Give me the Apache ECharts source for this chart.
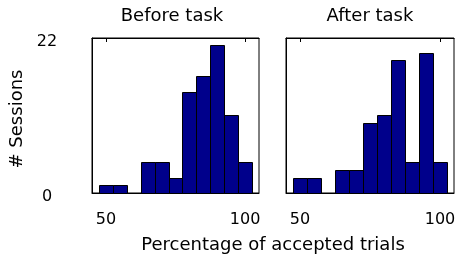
<!DOCTYPE html>
<html>
<head>
<meta charset="utf-8">
<script src="https://cdn.jsdelivr.net/npm/echarts@6/dist/echarts.min.js"></script>
<style>html,body{margin:0;padding:0;background:#fff;}#c{width:461px;height:256px;}</style>
</head>
<body>
<div id="c"></div>
<script>
// Histogram bin centres (% accepted trials), bin width 5
var binCenters = [50, 55, 60, 65, 70, 75, 80, 85, 90, 95, 100];
var beforeTask = [1.14, 1.14, 0, 4.4, 4.4, 2.13, 14.4, 16.65, 21.05, 11.1, 4.4];
var afterTask  = [2.17, 2.17, 0, 3.26, 3.26, 9.98, 11.1, 18.9, 4.4, 19.9, 4.4];
var binWidth = 5;
var xTicks = [50, 100];
var yTicks = [0, 22];
var panelTitles = ['Before task', 'After task'];

var FONT = 'DejaVu Sans';
var chart = echarts.init(document.getElementById('c'), null, {renderer: 'canvas'});

function toData(vals) {
  return binCenters.map(function (c, i) { return [c, vals[i]]; });
}
function renderBar(params, api) {
  var c = api.value(0), v = api.value(1);
  var p0 = api.coord([c - binWidth / 2, 0]);
  var p1 = api.coord([c + binWidth / 2, v]);
  var x0 = Math.round(p0[0]) + 0.5, x1 = Math.round(p1[0]) + 0.5;
  var y0 = Math.round(p0[1]) + 0.5, y1 = Math.round(p1[1]) + 0.5;
  if (v <= 0) return null;
  return {
    type: 'rect',
    shape: {x: x0, y: y1, width: x1 - x0, height: y0 - y1},
    style: {fill: '#00008B', stroke: '#000', lineWidth: 1}
  };
}

var grids = [
  {left: 92, top: 38, width: 167, height: 155},
  {left: 286, top: 38, width: 168, height: 155}
];
grids.forEach(function (g) { g.show = true; g.borderColor = '#000'; g.borderWidth = 1; g.backgroundColor = '#fff'; });

var xAxes = [], yAxes = [];
[0, 1].forEach(function (gi) {
  xAxes.push({
    type: 'value', gridIndex: gi, min: 45, max: 105, position: 'bottom',
    splitLine: {show: false},
    axisLine: {show: true, lineStyle: {color: '#000', width: 1}},
    axisTick: {show: true, inside: true, length: 4, customValues: xTicks, lineStyle: {color: '#000'}},
    axisLabel: {show: true, customValues: xTicks, margin: 19, fontFamily: FONT, fontSize: 16, color: '#000'}
  });
  xAxes.push({
    type: 'value', gridIndex: gi, min: 45, max: 105, position: 'top',
    splitLine: {show: false},
    axisLine: {show: true, lineStyle: {color: '#000', width: 1}},
    axisTick: {show: true, inside: true, length: 4, customValues: xTicks, lineStyle: {color: '#000'}},
    axisLabel: {show: false}
  });
  yAxes.push({
    type: 'value', gridIndex: gi, min: 0, max: 22, interval: 22, position: 'left',
    splitLine: {show: false},
    axisLine: {show: true, lineStyle: {color: '#000', width: 1}},
    axisTick: {show: true, inside: true, length: 4, lineStyle: {color: '#000'}},
    axisLabel: {show: gi === 0, customValues: yTicks, align: 'center', verticalAlign: 'top', lineHeight: 7,
                margin: 45, fontFamily: FONT, fontSize: 16, color: '#000'}
  });
});

chart.setOption({
  animation: false,
  backgroundColor: '#fff',
  grid: grids,
  xAxis: xAxes,
  yAxis: yAxes,
  title: [
    {text: panelTitles[0], left: 172, top: 7, textAlign: 'center', padding: 0,
     textStyle: {fontFamily: FONT, fontSize: 18, fontWeight: 'normal', color: '#000'}},
    {text: panelTitles[1], left: 370, top: 7, textAlign: 'center', padding: 0,
     textStyle: {fontFamily: FONT, fontSize: 18, fontWeight: 'normal', color: '#000'}},
    {text: 'Percentage of accepted trials', left: 273, top: 236, textAlign: 'center', padding: 0,
     textStyle: {fontFamily: FONT, fontSize: 18, fontWeight: 'normal', color: '#000'}}
  ],
  graphic: [{
    type: 'text', x: 17, y: 119, rotation: Math.PI / 2,
    style: {text: '# Sessions', fontFamily: FONT, fontSize: 18, fill: '#000', align: 'center', verticalAlign: 'middle'}
  }],
  series: [
    {type: 'custom', xAxisIndex: 0, yAxisIndex: 0, data: toData(beforeTask), renderItem: renderBar, z: 1},
    {type: 'custom', xAxisIndex: 2, yAxisIndex: 1, data: toData(afterTask), renderItem: renderBar, z: 1}
  ]
});
</script>
</body>
</html>
